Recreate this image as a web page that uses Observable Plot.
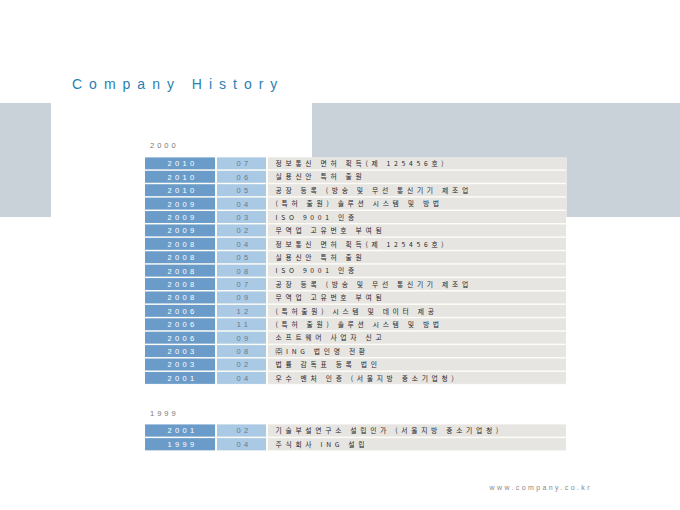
<!DOCTYPE html>
<html>
<head>
<meta charset="utf-8">
<script src="https://cdn.jsdelivr.net/npm/d3@7"></script>
<script src="https://cdn.jsdelivr.net/npm/@observablehq/plot@0.6"></script>
<style>
  html, body { margin: 0; padding: 0; background: #fff; }
  #page { position: relative; width: 680px; height: 510px; overflow: hidden; background: #fff;
          font-family: "Liberation Sans", Arial, "Noto Sans CJK KR", sans-serif; }
  .bg { position: absolute; background: #c9d1d9; }
  #title { position: absolute; left: 72px; top: 76px; font-size: 14px; letter-spacing: 7px;
           color: #2a80b2; white-space: nowrap; }
  .grp { position: absolute; left: 150px; font-size: 7.5px; letter-spacing: 3px; color: #777; }
  #footer { position: absolute; right: 88px; top: 484px; font-size: 7px; letter-spacing: 2.4px; color: #888; }
  .tbl { position: absolute; left: 145px; line-height: 0; }
  .tbl svg { background: transparent !important; overflow: visible; display: block; }
  .tbl text { letter-spacing: 3.4px; }
  .tbl text.desc, .tbl g.desc text { letter-spacing: 3.7px; }
</style>
</head>
<body>
<div id="page">
  <div class="bg" style="left:0;top:103px;width:51px;height:114px"></div>
  <div class="bg" style="left:312px;top:103px;width:368px;height:114px"></div>
  <div id="title">Company History</div>
  <div class="grp" id="g0" style="top:141px"></div>
  <div class="grp" id="g1" style="top:409px"></div>
  <div class="tbl" id="t0" style="top:157px"></div>
  <div class="tbl" id="t1" style="top:424px"></div>
  <div id="footer">www.company.co.kr</div>
</div>
<script>
const groupLabels = ["2000", "1999"];

const years2000 = ["2010","2010","2010","2009","2009","2009","2008","2008","2008","2008","2008","2006","2006","2006","2003","2003","2001"];
const months2000 = ["07","06","05","04","03","02","04","05","08","07","09","12","11","09","08","02","04"];
const events2000 = [
  "정보통신 면허 획득(제 125456호)",
  "실용신안 특허 출원",
  "공장 등록 (방송 및 무선 통신기기 제조업",
  "(특허 출원) 솔루션 시스템 및 방법",
  "ISO 9001 인증",
  "무역업 고유번호 부여됨",
  "정보통신 면허 획득(제 125456호)",
  "실용신안 특허 출원",
  "ISO 9001 인증",
  "공장 등록 (방송 및 무선 통신기기 제조업",
  "무역업 고유번호 부여됨",
  "(특허출원) 시스템 및 데이터 제공",
  "(특허 출원) 솔루션 시스템 및 방법",
  "소프트웨어 사업자 신고",
  "㈜ING 법인명 전환",
  "법률 감독표 등록 법인",
  "우수 벤처 인증 (서울지방 중소기업청)"
];

const years1999 = ["2001","1999"];
const months1999 = ["02","04"];
const events1999 = [
  "기술부설연구소 설립인가 (서울지방 중소기업청)",
  "주식회사 ING 설립"
];

// table layout (column spans in table units, 1 unit = 1px)
const TABLE_W = 421;
const COL_YEAR = [0, 70];
const COL_MONTH = [72, 121];
const COL_DESC = [123, 421];
const ROW_STEP = 13.37;

function makeTable(years, months, events) {
  const rows = years.map((y, i) => ({i, year: y, month: months[i], event: events[i]}));
  const n = rows.length;
  const h = n * ROW_STEP;
  const svg = Plot.plot({
    width: TABLE_W,
    height: h,
    margin: 0,
    style: "background: transparent; font-family: 'Liberation Sans', Arial, 'Noto Sans CJK KR', sans-serif;",
    x: {type: "linear", domain: [0, TABLE_W], axis: null},
    y: {type: "band", domain: d3.range(n), paddingInner: 0.11, paddingOuter: 0.03, round: false, axis: null},
    marks: [
      Plot.frame({fill: "#fdfcf6", stroke: null}),
      Plot.barX(rows, {y: "i", x1: () => COL_YEAR[0], x2: () => COL_YEAR[1], fill: "#6b9cc9"}),
      Plot.barX(rows, {y: "i", x1: () => COL_MONTH[0], x2: () => COL_MONTH[1], fill: "#a9c9e4"}),
      Plot.barX(rows, {y: "i", x1: () => COL_DESC[0], x2: () => COL_DESC[1], fill: "#e7e5e2"}),
      Plot.text(rows, {y: "i", x: () => (COL_YEAR[0] + COL_YEAR[1]) / 2 + 2, text: "year",
        fill: "#ffffff", fontSize: 7.5, textAnchor: "middle"}),
      Plot.text(rows, {y: "i", x: () => (COL_MONTH[0] + COL_MONTH[1]) / 2 + 2, text: "month",
        fill: "#687a8d", fontSize: 7.5, textAnchor: "middle"}),
      Plot.text(rows, {y: "i", x: () => COL_DESC[0] + 7, text: "event",
        fill: "#262626", fontSize: 6.8, textAnchor: "start",
        fontFamily: "'Noto Sans CJK KR', 'Liberation Sans', sans-serif"})
    ]
  });
  // mark the description text group for its wider letter spacing
  const groups = svg.querySelectorAll("g[aria-label='text']");
  if (groups.length) groups[groups.length - 1].classList.add("desc");
  return svg;
}

document.getElementById("g0").textContent = groupLabels[0];
document.getElementById("g1").textContent = groupLabels[1];
document.getElementById("t0").appendChild(makeTable(years2000, months2000, events2000));
document.getElementById("t1").appendChild(makeTable(years1999, months1999, events1999));
</script>
</body>
</html>
